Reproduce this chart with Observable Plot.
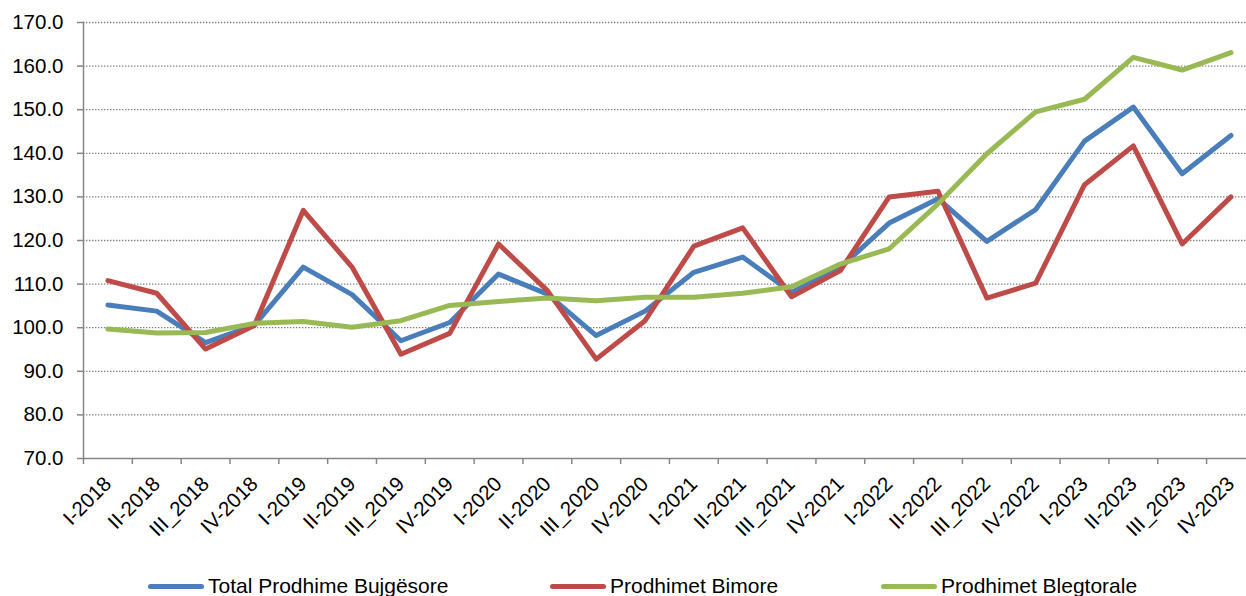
<!DOCTYPE html>
<html><head><meta charset="utf-8">
<script src="https://cdn.jsdelivr.net/npm/d3@7"></script>
<script src="https://cdn.jsdelivr.net/npm/@observablehq/plot@0.6"></script>
<style>
body{margin:0;background:#fff;font-family:"Liberation Sans",Arial,sans-serif;}
#wrap{position:relative;width:1246px;height:596px;overflow:hidden;background:#fff;}
#wrap svg{display:block;}
.leg{position:absolute;top:574px;height:24px;display:flex;align-items:center;font-size:21px;color:#000;white-space:nowrap;}
.sw{width:56px;height:5px;border-radius:3px;margin-right:4px;}
</style></head><body><div id="wrap"></div>
<script>
const quarters = ["I-2018","II-2018","III_2018","IV-2018","I-2019","II-2019","III_2019","IV-2019","I-2020","II-2020","III_2020","IV-2020","I-2021","II-2021","III_2021","IV-2021","I-2022","II-2022","III_2022","IV-2022","I-2023","II-2023","III_2023","IV-2023"];
const total      = [105.2,103.8,96.6,100.6,113.9,107.6,97.0,101.2,112.3,107.7,98.2,103.8,112.7,116.2,108.1,113.8,124.0,129.6,119.8,127.1,142.8,150.6,135.3,144.1];
const bimore     = [110.8,107.9,95.1,100.5,126.9,113.9,93.9,98.7,119.2,108.5,92.8,101.6,118.7,122.9,107.1,113.1,130.0,131.3,106.8,110.2,132.8,141.7,119.2,130.0];
const blegtorale = [99.7,98.8,98.9,101.0,101.4,100.1,101.6,105.1,106.0,106.8,106.2,107.0,107.0,107.9,109.4,114.6,118.1,128.4,139.9,149.5,152.4,162.0,159.1,163.1];
const seriesNames = ["Total Prodhime Bujgësore","Prodhimet Bimore","Prodhimet Blegtorale"];
const seriesColors = ["#4A7EBB","#BE4B48","#98B954"];
const yTicks = [70,80,90,100,110,120,130,140,150,160,170];

const seriesValues = [total, bimore, blegtorale];
const rows = [];
seriesValues.forEach((vals, si) => vals.forEach((v, i) => rows.push({q: quarters[i], v, s: seriesNames[si]})));

const x0 = 83, x1 = 1254.9;
const bw = (x1 - x0) / quarters.length;
const axisColor = "#868686";

const chart = Plot.plot({
  width: 1246, height: 545,
  marginLeft: 83, marginRight: 0, marginTop: 22, marginBottom: 87,
  style: {fontFamily: '"Liberation Sans", Arial, sans-serif', fontSize: "20.5px", color: "#000", background: "#fff"},
  x: {type: "band", domain: quarters, range: [x0, x1], padding: 0, round: false, label: null},
  y: {domain: [70, 170], range: [458, 22], label: null},
  color: {domain: seriesNames, range: seriesColors},
  marks: [
    Plot.gridY(yTicks.filter(v => v > 70), {stroke: "#808080", strokeOpacity: 1, strokeWidth: 1.3, strokeDasharray: "1.4,1.6"}),
    Plot.axisY(yTicks, {tickSize: 6, tickPadding: 14, tickFormat: d3.format(".1f"), stroke: axisColor, strokeWidth: 1.5, fontSize: 20.5, label: null}),
    Plot.axisX({tickSize: 6, tickFormat: () => "", dx: -bw / 2, stroke: axisColor, strokeWidth: 1.5, label: null}),
    Plot.axisX({tickSize: 0, tickPadding: 22, tickRotate: -45, fontSize: 20.5, label: null}),
    Plot.frame({anchor: "left", stroke: axisColor, strokeWidth: 1.5}),
    Plot.frame({anchor: "bottom", stroke: axisColor, strokeWidth: 1.5}),
    Plot.line(rows, {x: "q", y: "v", z: "s", stroke: "s", strokeWidth: 5, strokeLinejoin: "round", strokeLinecap: "round"})
  ]
});
const wrap = document.getElementById("wrap");
wrap.appendChild(chart);

const legLefts = [148, 550, 881];
seriesNames.forEach((n, i) => {
  const d = document.createElement("div");
  d.className = "leg";
  d.style.left = legLefts[i] + "px";
  d.innerHTML = `<span class="sw" style="background:${seriesColors[i]}"></span><span>${n}</span>`;
  wrap.appendChild(d);
});
</script>
</body></html>
